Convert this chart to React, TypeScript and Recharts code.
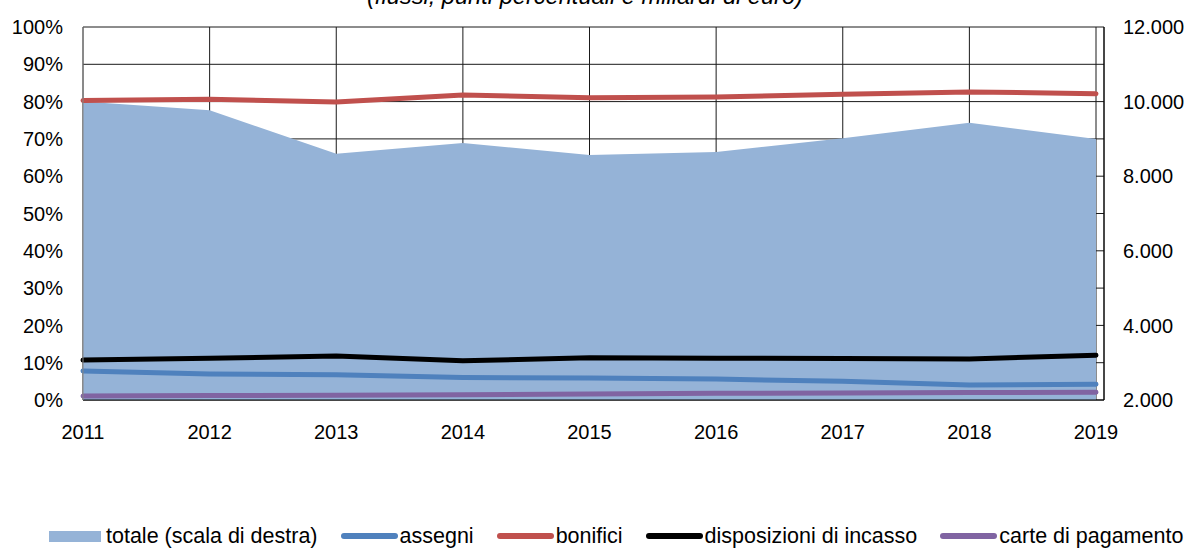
import React from 'react';
import { ComposedChart, Area, Line, XAxis, YAxis, CartesianGrid } from 'recharts';

const years = ['2011', '2012', '2013', '2014', '2015', '2016', '2017', '2018', '2019'];
const totale = [10000, 9770, 8600, 8890, 8570, 8650, 9020, 9430, 9000];
const assegni = [7.8, 7.0, 6.8, 6.0, 5.9, 5.6, 5.0, 4.0, 4.2];
const bonifici = [80.3, 80.6, 79.9, 81.8, 81.0, 81.2, 82.0, 82.6, 82.1];
const disposizioni = [10.7, 11.2, 11.8, 10.5, 11.3, 11.2, 11.1, 11.0, 12.0];
const carte = [1.1, 1.2, 1.3, 1.4, 1.6, 1.8, 1.9, 2.0, 2.1];
const leftTicks = [0, 10, 20, 30, 40, 50, 60, 70, 80, 90, 100];
const rightTicks = [2000, 4000, 6000, 8000, 10000, 12000];

const data = years.map((y, i) => ({
  year: y,
  totale: totale[i],
  assegni: assegni[i],
  bonifici: bonifici[i],
  disposizioni: disposizioni[i],
  carte: carte[i],
}));

const FONT = '"Liberation Sans", Arial, sans-serif';
const FS = 20;
const LEG_FS = 21.5;

const fmtThousands = (v: number) => String(v).replace(/\B(?=(\d{3})+(?!\d))/g, '.');

const legendItems = [
  { label: 'totale (scala di destra)', color: '#95B3D7', type: 'area' },
  { label: 'assegni', color: '#4F81BD', type: 'line' },
  { label: 'bonifici', color: '#C0504D', type: 'line' },
  { label: 'disposizioni di incasso', color: '#000000', type: 'line' },
  { label: 'carte di pagamento', color: '#8064A2', type: 'line' },
];

export default function App() {
  return (
    <div style={{ position: 'absolute', left: 0, top: 0, width: 1189, height: 548, background: '#fff', fontFamily: FONT, overflow: 'hidden' }}>
      <svg width={1189} height={30} style={{ position: 'absolute', left: 0, top: 0 }}>
        <text x={367} y={4} fontFamily={FONT} fontSize={23.5} fontStyle="italic" fill="#000" textLength={436} lengthAdjust="spacingAndGlyphs">
          (flussi; punti percentuali e miliardi di euro)
        </text>
      </svg>
      <ComposedChart
        width={1189}
        height={548}
        data={data}
        margin={{ top: 27, right: 0, bottom: 118, left: 0 }}
        style={{ position: 'absolute', left: 0, top: 0 }}
      >
        <Area
          yAxisId="right"
          dataKey="totale"
          type="linear"
          fill="#95B3D7"
          fillOpacity={1}
          stroke="none"
          isAnimationActive={false}
        />
        <CartesianGrid yAxisId="left" stroke="#1a1a1a" strokeWidth={1} />
        <XAxis
          dataKey="year"
          ticks={years}
          interval={0}
          height={30}
          padding={{ left: 0, right: 8 }}
          tickLine={false}
          tickSize={0}
          tickMargin={25}
          axisLine={{ stroke: '#000', strokeWidth: 1 }}
          tick={{ fill: '#000', fontSize: FS, fontFamily: FONT }}
        />
        <YAxis
          yAxisId="left"
          orientation="left"
          width={83}
          domain={[0, 100]}
          ticks={leftTicks}
          interval={0}
          tickFormatter={(v: number) => `${v}%`}
          tickLine={false}
          tickSize={0}
          tickMargin={20}
          axisLine={{ stroke: '#868686', strokeWidth: 1 }}
          tick={{ fill: '#000', fontSize: FS, fontFamily: FONT }}
        />
        <YAxis
          yAxisId="right"
          orientation="right"
          width={85}
          domain={[2000, 12000]}
          ticks={rightTicks}
          interval={0}
          tickFormatter={fmtThousands}
          tickLine={false}
          tickSize={0}
          tickMargin={19}
          axisLine={{ stroke: '#000', strokeWidth: 1 }}
          tick={{ fill: '#000', fontSize: FS, fontFamily: FONT, textAnchor: 'start' }}
        />
        <Line yAxisId="left" dataKey="assegni" type="linear" stroke="#4F81BD" strokeWidth={5} strokeLinecap="round" strokeLinejoin="round" dot={false} isAnimationActive={false} />
        <Line yAxisId="left" dataKey="bonifici" type="linear" stroke="#C0504D" strokeWidth={5} strokeLinecap="round" strokeLinejoin="round" dot={false} isAnimationActive={false} />
        <Line yAxisId="left" dataKey="disposizioni" type="linear" stroke="#000000" strokeWidth={5} strokeLinecap="round" strokeLinejoin="round" dot={false} isAnimationActive={false} />
        <Line yAxisId="left" dataKey="carte" type="linear" stroke="#8064A2" strokeWidth={5} strokeLinecap="round" strokeLinejoin="round" dot={false} isAnimationActive={false} />
      </ComposedChart>
      <div style={{ position: 'absolute', left: 49, top: 524, display: 'flex', alignItems: 'center', whiteSpace: 'nowrap', fontSize: LEG_FS, fontFamily: FONT, color: '#000', lineHeight: '24px' }}>
        {legendItems.map((it, i) => (
          <div key={it.label} style={{ display: 'flex', alignItems: 'center', marginLeft: i === 0 ? 0 : 23 }}>
            {it.type === 'area' ? (
              <div style={{ width: 52, height: 11, background: it.color, marginRight: 5 }} />
            ) : (
              <div style={{ width: 57, height: 6, borderRadius: 3, background: it.color, marginRight: 2 }} />
            )}
            <span>{it.label}</span>
          </div>
        ))}
      </div>
    </div>
  );
}
